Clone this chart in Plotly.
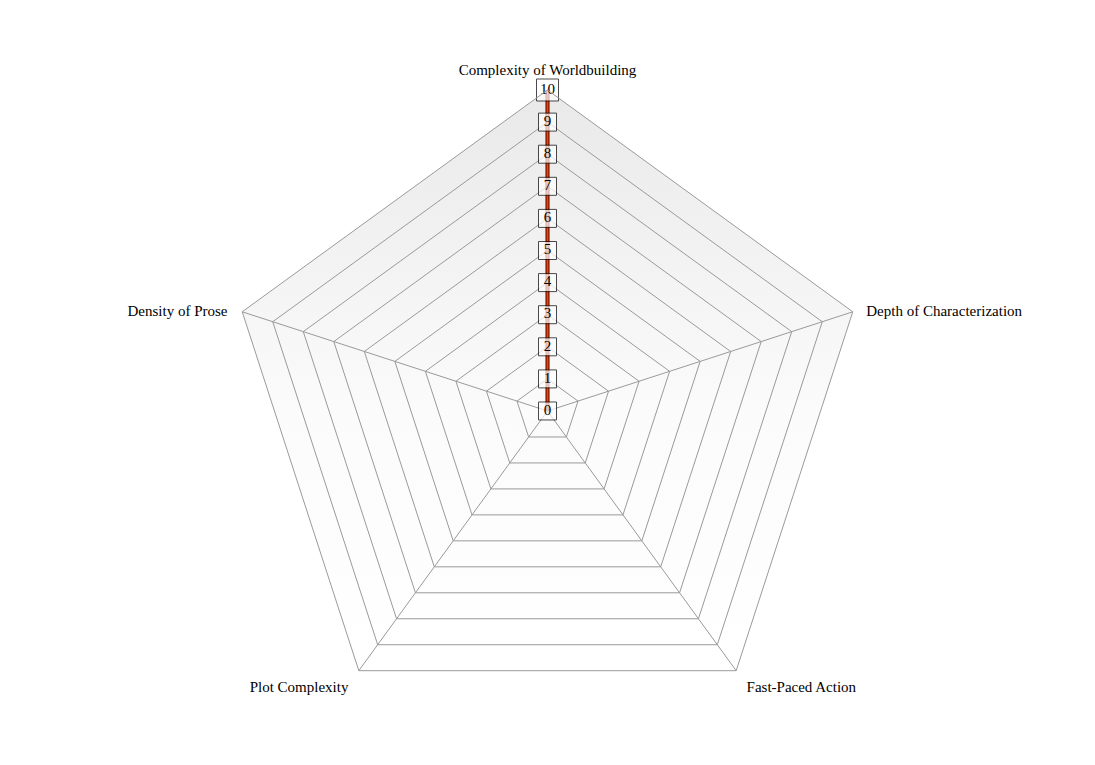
import base64
import math
import plotly.graph_objects as go

# ---- data ----
categories = [
    "Complexity of Worldbuilding",
    "Depth of Characterization",
    "Fast-Paced Action",
    "Plot Complexity",
    "Density of Prose",
]
scale_values = [0, 1, 2, 3, 4, 5, 6, 7, 8, 9, 10]
scale_labels = [str(v) for v in scale_values]
series_values = [0, 0, 0, 0, 0]  # no visible series in the reference
label_positions = ["top center", "middle right", "bottom right", "bottom left", "middle left"]

FONT = "Liberation Serif, Times New Roman, serif"
GRID = "#9a9a9a"
RMAX = scale_values[-1]
EPS = 1e-3  # keeps the centre label from being treated as outside the polygon

# ---- background gradient (vertical) clipped to the outer pentagon ----
n = len(categories)
pts = []
for i in range(n):
    a = math.radians(90 - 360 * i / n)
    pts.append(f"{100 + 100 * math.cos(a):.3f},{100 - 100 * math.sin(a):.3f}")
svg = (
    '<svg xmlns="http://www.w3.org/2000/svg" width="200" height="200" viewBox="0 0 200 200">'
    '<defs><linearGradient id="g" x1="0" y1="0" x2="0" y2="1">'
    '<stop offset="0" stop-color="#e9e9e9"/>'
    '<stop offset="0.55" stop-color="#fbfbfb"/>'
    '<stop offset="1" stop-color="#ffffff"/>'
    '</linearGradient></defs>'
    f'<polygon points="{" ".join(pts)}" fill="url(#g)"/></svg>'
)
svg_uri = "data:image/svg+xml;base64," + base64.b64encode(svg.encode()).decode()

fig = go.Figure()

# invisible series defining the categories
fig.add_trace(go.Scatterpolar(
    r=series_values, theta=categories, mode="markers",
    marker=dict(opacity=0), hoverinfo="skip", showlegend=False,
))

# category labels just outside the outer ring
fig.add_trace(go.Scatterpolar(
    r=[RMAX] * n, theta=categories, mode="markers+text",
    text=categories, textposition=label_positions,
    textfont=dict(family=FONT, size=15, color="#000"),
    marker=dict(opacity=0, size=[16, 20, 15, 15, 22]),
    cliponaxis=False, hoverinfo="skip", showlegend=False,
))

# red radial axis line (on top of dark axis line)
fig.add_trace(go.Scatterpolar(
    r=[scale_values[0], RMAX], theta=[categories[0]] * 2,
    mode="lines", line=dict(color="#ff3c00", width=2),
    hoverinfo="skip", showlegend=False,
))

# boxed scale labels
fig.add_trace(go.Scatterpolar(
    r=[max(v, EPS) for v in scale_values],
    theta=[categories[0]] * len(scale_values),
    mode="markers+text", text=scale_labels, textposition="middle center",
    textfont=dict(family=FONT, size=15, color="#000"),
    marker=dict(symbol="square", color="white",
                size=[18 if len(s) == 1 else 22 for s in scale_labels],
                line=dict(color="#000", width=1)),
    cliponaxis=False, hoverinfo="skip", showlegend=False,
))

fig.update_layout(
    width=1095, height=765,
    margin=dict(l=72, r=88, t=82, b=41),
    paper_bgcolor="white",
    showlegend=False,
    font=dict(family=FONT, size=15, color="#000"),
    images=[dict(source=svg_uri, xref="paper", yref="paper", x=0.5, y=0.5,
                 xanchor="center", yanchor="middle", sizex=1, sizey=1,
                 sizing="contain", layer="below")],
    polar=dict(
        bgcolor="rgba(0,0,0,0)",
        gridshape="linear",
        domain=dict(x=[0, 1], y=[0, 1]),
        radialaxis=dict(
            range=[0, RMAX], dtick=1, angle=90, showticklabels=False,
            ticks="", showline=True, linecolor="#3a0a00", linewidth=4,
            gridcolor=GRID, gridwidth=1, layer="below traces",
        ),
        angularaxis=dict(
            type="category", categoryorder="array", categoryarray=categories,
            direction="clockwise", rotation=90, ticks="", showticklabels=False,
            showline=True, linecolor=GRID, linewidth=1,
            gridcolor=GRID, gridwidth=1,
        ),
    ),
)

fig.write_html("out.html")
